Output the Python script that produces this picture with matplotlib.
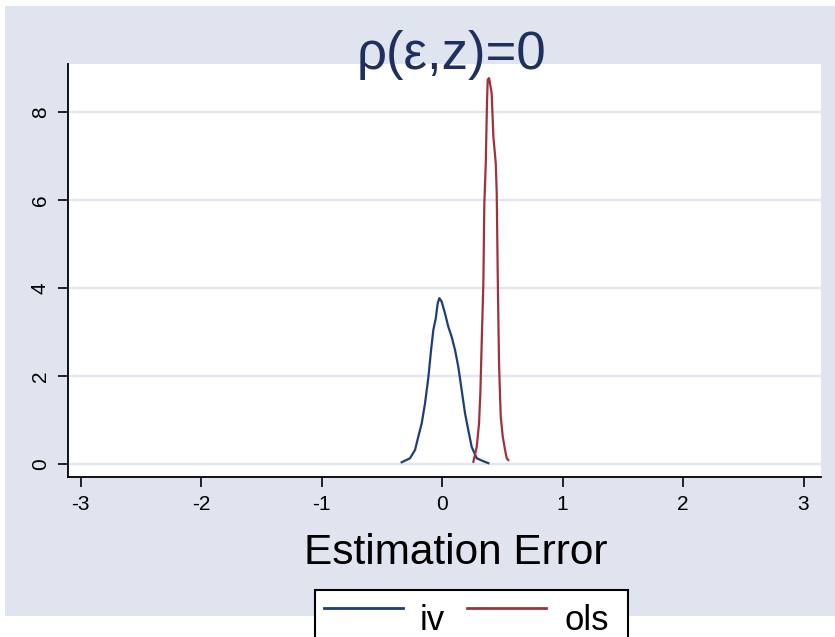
import matplotlib
matplotlib.use("Agg")
import matplotlib.pyplot as plt
from matplotlib.patches import Rectangle
from matplotlib.lines import Line2D

# =====================================================
# DATA
# =====================================================

iv_x = [-0.335, -0.266, -0.224, -0.197, -0.169, -0.141, -0.113, -0.091,
        -0.072, -0.052, -0.036, -0.022, -0.003, 0.025, 0.052, 0.080,
        0.108, 0.135, 0.163, 0.191, 0.218, 0.246, 0.288, 0.329, 0.384]
iv_y = [0.04, 0.13, 0.32, 0.62, 0.92, 1.38, 1.98, 2.59,
        3.05, 3.31, 3.65, 3.77, 3.69, 3.42, 3.12, 2.89,
        2.59, 2.21, 1.68, 1.15, 0.77, 0.39, 0.13, 0.08, 0.02]

ols_x = [0.260, 0.288, 0.307, 0.318, 0.329, 0.343, 0.351, 0.363, 0.373,
         0.379, 0.390, 0.398, 0.412, 0.426, 0.446, 0.454, 0.462, 0.473,
         0.487, 0.504, 0.523, 0.537, 0.550]
ols_y = [0.05, 0.39, 0.92, 1.61, 2.74, 4.11, 5.92, 6.83, 8.20,
         8.73, 8.77, 8.65, 8.42, 7.44, 6.83, 6.15, 4.33, 2.29,
         1.08, 0.62, 0.32, 0.13, 0.09]

x_ticks = [-3, -2, -1, 0, 1, 2, 3]
y_ticks = [0, 2, 4, 6, 8]

TITLE = "\u03c1(\u03b5,z)=0"
XLABEL = "Estimation Error"
LEGEND_LABELS = ["iv", "ols"]

# =====================================================
# STYLE
# =====================================================

BG = "#E0E4EF"
GRID = "#E1E5EF"
NAVY = "#1E3D7B"
MAROON = "#9E323C"
TITLE_COLOR = "#1F2F5F"

plt.rcParams["font.family"] = ["Liberation Sans", "DejaVu Sans"]

W, H = 835, 637
fig = plt.figure(figsize=(W / 100, H / 100), dpi=100)
fig.patch.set_facecolor("white")


def fx(px):
    return px / W


def fy(py):
    return 1 - py / H


# outer graph region
fig.patches.append(Rectangle((fx(5), fy(616)), 1 - fx(5), (616 - 6) / H,
                             transform=fig.transFigure, facecolor=BG,
                             edgecolor="none", zorder=-10))

ax = fig.add_axes([fx(68), fy(477), (821 - 68) / W, (477 - 64) / H])
ax.set_facecolor("white")

ax.plot(iv_x, iv_y, color=NAVY, lw=1.6)
ax.plot(ols_x, ols_y, color=MAROON, lw=1.6)

ax.set_xlim(-3.104, 3.145)
ax.set_ylim(-0.295, 9.09)

ax.set_xticks(x_ticks)
ax.set_yticks(y_ticks)
ax.set_xticklabels([str(v) for v in x_ticks], fontsize=15)
ax.set_yticklabels([str(v) for v in y_ticks], fontsize=15,
                   rotation=90, va="center")

ax.tick_params(direction="out", length=7, width=1.2, color="black", pad=6)
ax.grid(axis="y", color=GRID, lw=1.6)
ax.set_axisbelow(True)

for side in ["top", "right"]:
    ax.spines[side].set_visible(False)
for side in ["left", "bottom"]:
    ax.spines[side].set_linewidth(1.3)

# =====================================================
# TEXT
# =====================================================

fig.text(fx(451), fy(55), TITLE, fontsize=38, color=TITLE_COLOR,
         ha="center", va="center")

fig.text(fx(456), fy(553), XLABEL, fontsize=30.5, color="black",
         ha="center", va="center")

# =====================================================
# LEGEND (Stata style: box clipped at bottom edge)
# =====================================================

fig.patches.append(Rectangle((fx(315), fy(660)), (628 - 315) / W, (660 - 590) / H,
                             transform=fig.transFigure, facecolor="white",
                             edgecolor="black", lw=1.5, zorder=5))

leg_colors = [NAVY, MAROON]
line_starts = [324, 467]
text_starts = [420, 564]
for label, col, x0, tx in zip(LEGEND_LABELS, leg_colors, line_starts, text_starts):
    fig.lines.append(Line2D([fx(x0), fx(x0 + 79)], [fy(608), fy(608)],
                            transform=fig.transFigure, color=col, lw=2,
                            zorder=6))
    fig.text(fx(tx), fy(621), label, fontsize=25, color="black",
             ha="left", va="center", zorder=6)

fig.savefig("out.png", dpi=100, facecolor=fig.get_facecolor())
